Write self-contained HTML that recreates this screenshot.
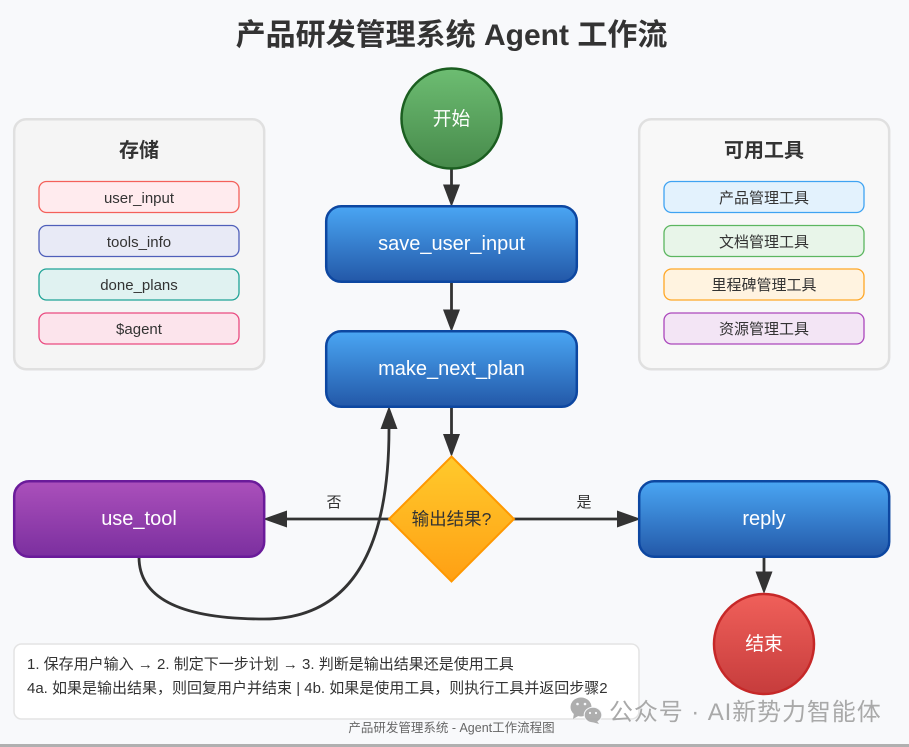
<!DOCTYPE html>
<html><head><meta charset="utf-8"><style>
html,body{margin:0;padding:0;background:#f8f9fb}
svg{display:block}
text{font-family:"Liberation Sans","Noto Sans CJK SC",sans-serif;text-anchor:middle}
</style></head><body>
<svg width="909" height="747" viewBox="0 0 909 747" xmlns="http://www.w3.org/2000/svg">
<defs>
<linearGradient id="g" x1="0" y1="0" x2="0" y2="1"><stop offset="0" stop-color="#6dbd72"/><stop offset="1" stop-color="#478a4b"/></linearGradient>
<linearGradient id="b" x1="0" y1="0" x2="0" y2="1"><stop offset="0" stop-color="#4aa6f3"/><stop offset="1" stop-color="#2358a8"/></linearGradient>
<linearGradient id="p" x1="0" y1="0" x2="0" y2="1"><stop offset="0" stop-color="#ab50bb"/><stop offset="1" stop-color="#7b2f9f"/></linearGradient>
<linearGradient id="y" x1="0" y1="0" x2="0" y2="1"><stop offset="0" stop-color="#ffca2c"/><stop offset="1" stop-color="#ffa014"/></linearGradient>
<linearGradient id="r" x1="0" y1="0" x2="0" y2="1"><stop offset="0" stop-color="#f0605a"/><stop offset="1" stop-color="#c63c3c"/></linearGradient>
</defs>
<rect width="909" height="747" fill="#f8f9fb"/>
<rect y="744" width="909" height="3" fill="#b0b0b0"/>
<text x="451.5" y="45" font-size="30" font-weight="bold" fill="#333">产品研发管理系统 Agent 工作流</text>

<rect x="14.2" y="119.2" width="250" height="250" rx="12" fill="#f5f5f5" stroke="#e0e0e0" stroke-width="2.5"/>
<text x="139" y="157" font-size="20" font-weight="bold" fill="#333">存储</text>
<rect x="39" y="181.5" width="200" height="31" rx="7.5" fill="#ffebee" stroke="#f4605a" stroke-width="1.3"/>
<text x="139" y="203" font-size="15" fill="#333">user_input</text>
<rect x="39" y="225.5" width="200" height="31" rx="7.5" fill="#e8eaf6" stroke="#4f5fba" stroke-width="1.3"/>
<text x="139" y="247" font-size="15" fill="#333">tools_info</text>
<rect x="39" y="269" width="200" height="31" rx="7.5" fill="#e0f2f1" stroke="#1fa396" stroke-width="1.3"/>
<text x="139" y="290" font-size="15" fill="#333">done_plans</text>
<rect x="39" y="313" width="200" height="31" rx="7.5" fill="#fce4ec" stroke="#ea4a80" stroke-width="1.3"/>
<text x="139" y="334" font-size="15" fill="#333">$agent</text>

<rect x="639.2" y="119.2" width="250" height="250" rx="12" fill="#f8f8f8" stroke="#e0e0e0" stroke-width="2.5"/>
<text x="764" y="157" font-size="20" font-weight="bold" fill="#333">可用工具</text>
<rect x="664" y="181.5" width="200" height="31" rx="7.5" fill="#e3f2fd" stroke="#3fa3f2" stroke-width="1.3"/>
<text x="764" y="203" font-size="15" fill="#333">产品管理工具</text>
<rect x="664" y="225.5" width="200" height="31" rx="7.5" fill="#e8f5e9" stroke="#5cb660" stroke-width="1.3"/>
<text x="764" y="247" font-size="15" fill="#333">文档管理工具</text>
<rect x="664" y="269" width="200" height="31" rx="7.5" fill="#fff3e0" stroke="#ffa726" stroke-width="1.3"/>
<text x="764" y="290" font-size="15" fill="#333">里程碑管理工具</text>
<rect x="664" y="313" width="200" height="31" rx="7.5" fill="#f3e5f5" stroke="#ab47bc" stroke-width="1.3"/>
<text x="764" y="334" font-size="15" fill="#333">资源管理工具</text>

<g stroke="#333" stroke-width="2.8" fill="none">
<path d="M451.5 169V190"/>
<path d="M451.5 282V310"/>
<path d="M451.5 407V436"/>
<path d="M389 519H285"/>
<path d="M514 519H618"/>
<path d="M764 557V574"/>
<path d="M139 557Q139 619 264 619Q389 619 389 429"/>
</g>
<g fill="#333">
<path d="M443 184.5H460L451.5 207Z"/>
<path d="M443 309.5H460L451.5 332Z"/>
<path d="M443 434H460L451.5 457Z"/>
<path d="M287 510.5V527.5L263 519Z"/>
<path d="M617 510.5V527.5L641 519Z"/>
<path d="M755.5 571.5H772.5L764 594Z"/>
<path d="M380.5 429H397.5L389 406Z"/>
</g>

<circle cx="451.5" cy="118.5" r="50" fill="url(#g)" stroke="#1b5e20" stroke-width="2.5"/>
<text x="451.5" y="125" font-size="18.8" fill="#fff">开始</text>

<rect x="326.2" y="206.2" width="250.600" height="75.600" rx="15" fill="url(#b)" stroke="#0d47a1" stroke-width="2.5"/>
<text x="451.5" y="250" font-size="20" fill="#fff">save_user_input</text>
<rect x="326.2" y="331.2" width="250.600" height="75.600" rx="15" fill="url(#b)" stroke="#0d47a1" stroke-width="2.5"/>
<text x="451.5" y="375" font-size="20" fill="#fff">make_next_plan</text>

<path d="M451.5 456.5L514 519L451.5 581.5L389 519Z" fill="url(#y)" stroke="#ff9800" stroke-width="2"/>
<text x="451.5" y="525" font-size="17.5" fill="#333">输出结果?</text>

<rect x="14.2" y="481.2" width="250" height="75.600" rx="15" fill="url(#p)" stroke="#6a1b9a" stroke-width="2.5"/>
<text x="139" y="525" font-size="20" fill="#fff">use_tool</text>
<rect x="639.2" y="481.2" width="250" height="75.600" rx="15" fill="url(#b)" stroke="#0d47a1" stroke-width="2.5"/>
<text x="764" y="525" font-size="20" fill="#fff">reply</text>

<text x="334" y="507" font-size="15" fill="#333">否</text>
<text x="584" y="507" font-size="15" fill="#333">是</text>

<circle cx="764" cy="644" r="50" fill="url(#r)" stroke="#c62828" stroke-width="2.5"/>
<text x="764" y="650" font-size="18.8" fill="#fff">结束</text>

<rect x="14" y="644" width="625" height="75" rx="7.5" fill="#fff" stroke="#e4e4e4" stroke-width="1.5"/>
<text x="27" y="669" font-size="15" fill="#333" style="text-anchor:start">1. 保存用户输入 → 2. 制定下一步计划 → 3. 判断是输出结果还是使用工具</text>
<text x="27" y="693" font-size="15" fill="#333" style="text-anchor:start">4a. 如果是输出结果，则回复用户并结束 | 4b. 如果是使用工具，则执行工具并返回步骤2</text>
<text x="451.5" y="732" font-size="12.5" fill="#666">产品研发管理系统 - Agent工作流程图</text>

<g fill="#a8a8a8" opacity=".92">
<ellipse cx="581" cy="707" rx="10.5" ry="9.5"/>
<path d="M574 713L573 719L580 715Z"/>
<ellipse cx="593" cy="715" rx="8.8" ry="7.8" stroke="#f8f9fb" stroke-width="1"/>
<path d="M597 721L599 724L592 722Z"/>
</g>
<g fill="#f8f9fb"><circle cx="577.5" cy="704" r="1.3"/><circle cx="585" cy="704" r="1.3"/><circle cx="590" cy="713" r="1.1"/><circle cx="596" cy="713" r="1.1"/></g>
<text x="609" y="720" font-size="24" fill="#a9a9a9" letter-spacing="0.9" style="text-anchor:start">公众号 · AI新势力智能体</text>
</svg>
</body></html>
